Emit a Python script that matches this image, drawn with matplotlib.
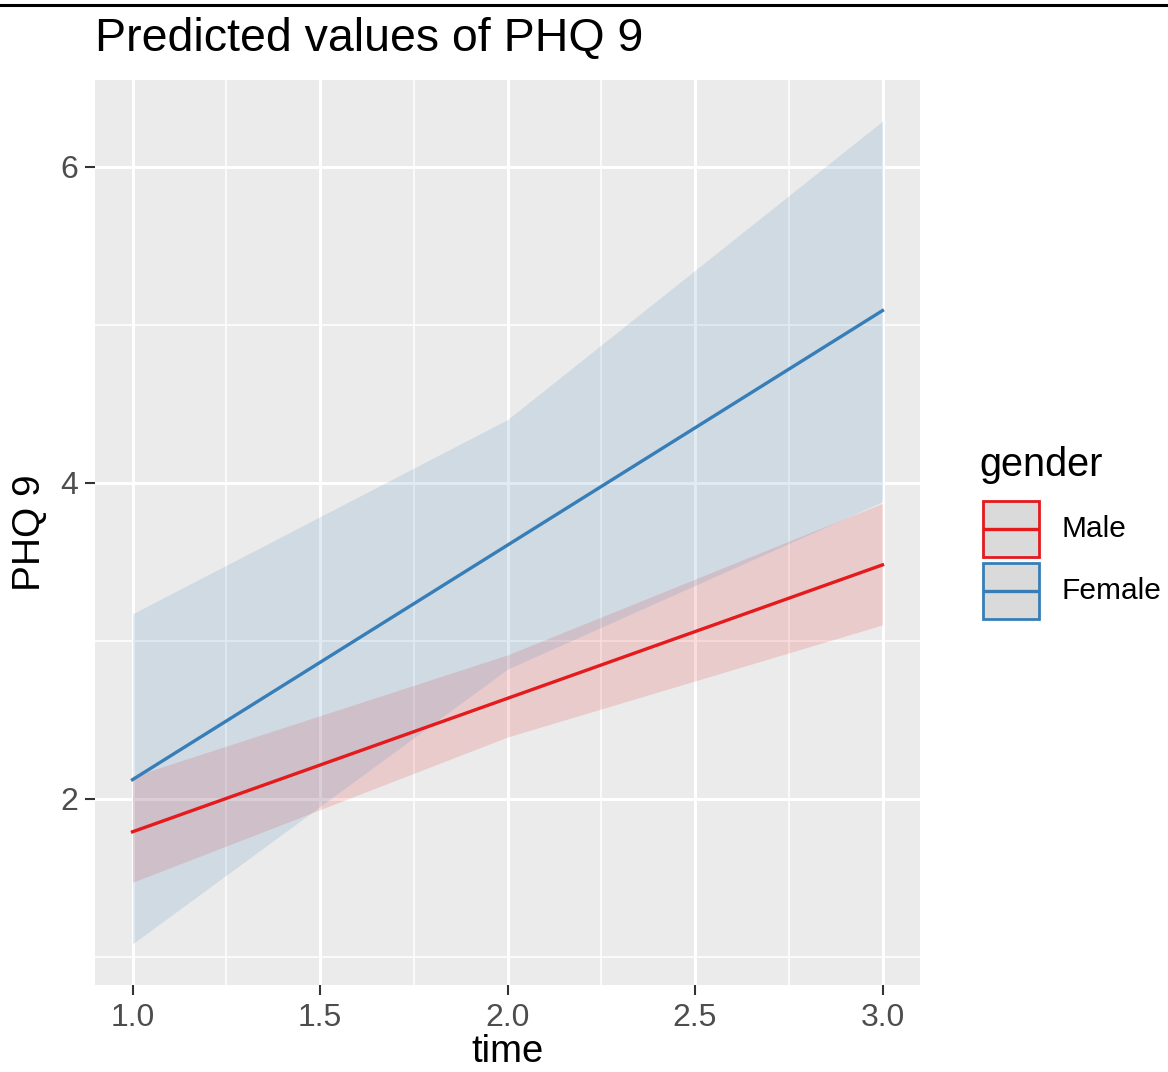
import matplotlib
matplotlib.use("Agg")
import matplotlib.pyplot as plt
from matplotlib.lines import Line2D
from matplotlib.patches import Rectangle

# ---- data ----
time = [1.0, 2.0, 3.0]
groups = ["Male", "Female"]
male_pred = [1.79, 2.635, 3.48]
male_low = [1.47, 2.39, 3.10]
male_high = [2.14, 2.91, 3.87]
female_pred = [2.12, 3.605, 5.09]
female_low = [1.08, 2.82, 3.88]
female_high = [3.17, 4.40, 6.29]
colors = {"Male": "#E41A1C", "Female": "#377EB8"}
xticks = [1.0, 1.5, 2.0, 2.5, 3.0]
xticklabels = ["1.0", "1.5", "2.0", "2.5", "3.0"]
yticks = [2, 4, 6]

W, H = 1168, 1072
plt.rcParams['font.family'] = ['Liberation Sans', 'DejaVu Sans']
fig = plt.figure(figsize=(W / 100, H / 100), dpi=100)

def fx(px):
    return px / W

def fy(py):
    return 1 - py / H

L, R, T, B = 95, 920, 80, 985
ax = fig.add_axes([fx(L), fy(B), (R - L) / W, (B - T) / H])
ax.set_facecolor("#EBEBEB")
for s in ax.spines.values():
    s.set_visible(False)

ax.set_xlim(0.9, 3.1)
ax.set_ylim(0.82, 6.55)

for v in [1.25, 1.75, 2.25, 2.75]:
    ax.axvline(v, color="white", lw=1.1, zorder=0.5)
for v in [1, 3, 5]:
    ax.axhline(v, color="white", lw=1.1, zorder=0.5)
for v in xticks:
    ax.axvline(v, color="white", lw=2.1, zorder=0.6)
for v in yticks:
    ax.axhline(v, color="white", lw=2.1, zorder=0.6)

series = {
    "Male": (male_pred, male_low, male_high),
    "Female": (female_pred, female_low, female_high),
}
for g in groups:
    p, lo, hi = series[g]
    ax.fill_between(time, lo, hi, color=colors[g], alpha=0.15, lw=0, zorder=1)
for g in groups:
    p, lo, hi = series[g]
    ax.plot(time, p, color=colors[g], lw=2.4, zorder=2)

ax.set_xticks(xticks)
ax.set_xticklabels(xticklabels)
ax.set_yticks(yticks)
ax.tick_params(axis="both", colors="#333333", length=7, width=1.5,
               labelsize=23, labelcolor="#4D4D4D", pad=5)
ax.tick_params(axis="x", pad=6)

ax.set_xlabel("time", fontsize=27.5, color="black", labelpad=0.5)
ax.set_ylabel("PHQ 9", fontsize=28, color="black", labelpad=9)
ax.set_title("Predicted values of PHQ 9", fontsize=33.5, loc="left", pad=21, color="black")

# top border line
fig.add_artist(Line2D([0, 1], [fy(5), fy(5)], transform=fig.transFigure,
                      color="black", lw=2.2))

# legend (manual, ggplot style)
fig.text(fx(979), fy(465), "gender", fontsize=28.5, ha="left", va="center")
key_tops = [500, 562]
for g, kt in zip(groups, key_tops):
    x0, y0, w, h = 983, kt + 1, 56, 56
    fig.add_artist(Rectangle((fx(x0), fy(y0 + h)), w / W, h / H, transform=fig.transFigure,
                             facecolor="#DADADA", edgecolor=colors[g], lw=2.0))
    fig.add_artist(Line2D([fx(x0 + 2), fx(x0 + w - 2)], [fy(y0 + h / 2)] * 2,
                          transform=fig.transFigure, color=colors[g], lw=2.4))
    fig.text(fx(1062), fy(y0 + h / 2), g, fontsize=21.5, ha="left", va="center")

fig.savefig("out.png", dpi=100, facecolor="white")
